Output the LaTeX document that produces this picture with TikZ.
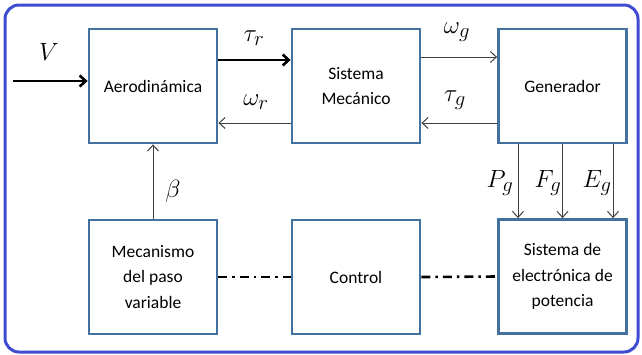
\documentclass[tikz,border=0pt]{standalone}
\usepackage{fontspec}
\setmainfont{Carlito}
\usetikzlibrary{arrows.meta}
\definecolor{boxblue}{HTML}{41719C}
\definecolor{frameblue}{HTML}{3F4BD0}
\begin{document}
\begin{tikzpicture}[x=1pt,y=-1pt,
  blk/.style={draw=boxblue, line width=2.8pt, minimum width=128pt, minimum height=114pt, align=center, font=\fontsize{17.5}{25.5}\selectfont, inner sep=0pt},
  thinarrow/.style={draw=black!75, line width=1pt, -{Straight Barb[length=6pt,width=11pt]}},
  thickarrow/.style={draw=black, line width=2.6pt, -{Straight Barb[length=6pt,width=11pt]}},
  dashdot/.style={draw=black, line width=2.6pt, dash pattern=on 9pt off 5pt on 2.5pt off 5pt},
  lbl/.style={font=\fontsize{28}{30}\selectfont, inner sep=0pt}
]
\useasboundingbox (0,0) rectangle (642,354);
\draw[frameblue, line width=3pt, rounded corners=14pt, fill=white] (5,5) rectangle (638,352);

\node[blk] (aero) at (153,86) {Aerodinámica};
\node[blk] (mec) at (356,86) {Sistema\\Mecánico};
\node[blk] (gen) at (562.5,86) {Generador};
\node[blk] (paso) at (153,277) {Mecanismo\\del paso\\variable};
\node[blk] (ctrl) at (356,277) {Control};
\node[blk] (elec) at (562.5,276.5) {Sistema de\\electrónica de\\potencia};

\coordinate (vin) at (13,81);
\draw[thickarrow] (vin) -- ([yshift=5pt]aero.west);
\draw[thickarrow] ([yshift=26pt]aero.east) -- ([yshift=26pt]mec.west);
\draw[thinarrow] ([yshift=-37pt]mec.west) -- ([yshift=-37pt]aero.east);
\draw[thinarrow] ([yshift=29pt]mec.east) -- ([yshift=29pt]gen.west);
\draw[thinarrow] ([yshift=-37pt]gen.west) -- ([yshift=-37pt]mec.east);
\draw[thinarrow] (paso.north) -- (aero.south);
\draw[thinarrow] ([xshift=-44.5pt]gen.south) -- ([xshift=-44.5pt]elec.north);
\draw[thinarrow] (gen.south) -- (elec.north);
\draw[thinarrow] ([xshift=50.5pt]gen.south) -- ([xshift=50.5pt]elec.north);
\draw[dashdot] (paso.east) -- (ctrl.west);
\draw[dashdot] (ctrl.east) -- (elec.west);

\node[lbl] (lV) at (49,52) {$V$};
\node[lbl] (ltr) at (254,38) {$\tau_r$};
\node[lbl] (lwr) at (256,102) {$\omega_r$};
\node[lbl] (lwg) at (457,32) {$\omega_g$};
\node[lbl] (ltg) at (455,100) {$\tau_g$};
\node[lbl] (lb) at (173,191) {$\beta$};
\node[lbl] (lP) at (500,183) {$P_g$};
\node[lbl] (lF) at (548,183) {$F_g$};
\node[lbl] (lE) at (597,183) {$E_g$};
\end{tikzpicture}
\end{document}
